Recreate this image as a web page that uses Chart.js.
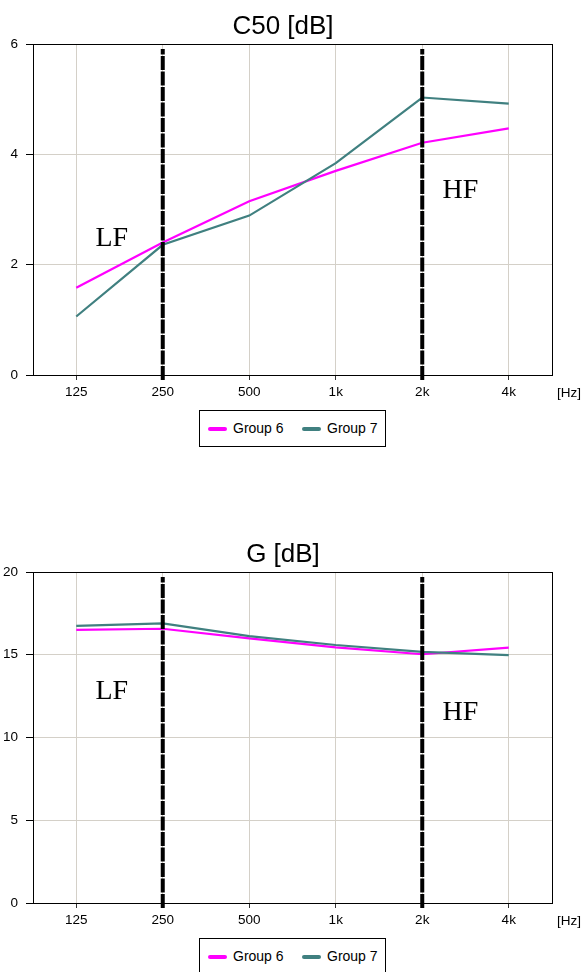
<!DOCTYPE html>
<html>
<head>
<meta charset="utf-8">
<script src="https://cdn.jsdelivr.net/npm/chart.js@4/dist/chart.umd.min.js"></script>
<style>
  html, body { margin:0; padding:0; background:#fff; width:586px; height:972px; overflow:hidden; }
  .panel { position:absolute; left:0; width:586px; height:528px; }
  .panel canvas { position:absolute; left:0; top:0; }
  .title { position:absolute; left:0; width:566px; top:10px; line-height:30px; text-align:center;
           font-family:"Liberation Sans", Arial, sans-serif; font-size:26px; color:#000; }
  .legend { position:absolute; left:199px; top:410px; width:187px; height:37px; box-sizing:border-box;
            border:1px solid #000; background:#fff; font-family:"Liberation Sans", Arial, sans-serif; font-size:14px; }
  .legend .sw { position:absolute; top:16px; width:19px; height:4px; border-radius:2px; }
  .legend .tx { position:absolute; top:0; line-height:35px; color:#000; }
</style>
</head>
<body>
<div class="panel" id="p1" style="top:0px;">
  <canvas id="c1" width="586" height="528"></canvas>
  <div class="title" id="t1"></div>
  <div class="legend" id="l1"></div>
</div>
<div class="panel" id="p2" style="top:528px;">
  <canvas id="c2" width="586" height="528"></canvas>
  <div class="title" id="t2"></div>
  <div class="legend" id="l2"></div>
</div>
<script>
// ---- data ----
const bands = ['125', '250', '500', '1k', '2k', '4k'];
const seriesNames = ['Group 6', 'Group 7'];
const seriesColors = ['#FF00FF', '#408080'];

const c50Title = 'C50 [dB]';
const c50Group6 = [1.58, 2.40, 3.15, 3.70, 4.21, 4.47];
const c50Group7 = [1.06, 2.36, 2.89, 3.84, 5.03, 4.92];
const c50Ticks = [0, 2, 4, 6];

const gTitle = 'G [dB]';
const gGroup6 = [16.5, 16.57, 15.99, 15.45, 15.03, 15.43];
const gGroup7 = [16.74, 16.9, 16.13, 15.59, 15.17, 14.98];
const gTicks = [0, 5, 10, 15, 20];

const markerBands = ['250', '2k'];
const c50MarkerSpan = [-0.09, 5.91];
const gMarkerSpan = [-0.3, 19.7];

const c50Labels = [{ text: 'LF', x: 0.41, y: 2.48 }, { text: 'HF', x: 4.44, y: 3.34 }];
const gLabels = [{ text: 'LF', x: 0.41, y: 12.75 }, { text: 'HF', x: 4.44, y: 11.48 }];
const unitLabel = '[Hz]';

// ---- drawing ----
const SANS = '"Liberation Sans", Arial, sans-serif';
const GRID = '#D4D0C8';

const framePlugin = {
  id: 'frame',
  afterDraw(chart, args, opts) {
    const { ctx, chartArea: a, scales } = chart;
    ctx.save();
    ctx.strokeStyle = '#000';
    ctx.lineWidth = 1;
    ctx.strokeRect(Math.round(a.left) + 0.5, Math.round(a.top) + 0.5,
                   Math.round(a.right - a.left), Math.round(a.bottom - a.top));
    ctx.fillStyle = '#000';
    ctx.font = '13.5px ' + SANS;
    ctx.textAlign = 'left';
    ctx.textBaseline = 'middle';
    ctx.fillText(unitLabel, a.right + 5, a.bottom + 18);
    ctx.font = '28px "Liberation Serif", "Times New Roman", serif';
    ctx.textAlign = 'center';
    for (const l of opts.labels) {
      ctx.fillText(l.text, scales.x.getPixelForValue(l.x), scales.y.getPixelForValue(l.y));
    }
    ctx.restore();
  }
};

function makeChart(canvasId, g6, g7, ticks, span, labels) {
  const markerSets = markerBands.map(b => ({
    label: 'marker ' + b,
    data: span.map(v => ({ x: b, y: v })),
    borderColor: '#000',
    borderWidth: 4,
    borderDash: [14, 1.5],
    pointRadius: 0,
    clip: false,
    order: 1
  }));
  return new Chart(document.getElementById(canvasId), {
    type: 'line',
    data: {
      labels: bands,
      datasets: [
        { label: seriesNames[0], data: g6, borderColor: seriesColors[0], borderWidth: 2.2, pointRadius: 0, tension: 0, order: 3 },
        { label: seriesNames[1], data: g7, borderColor: seriesColors[1], borderWidth: 2.2, pointRadius: 0, tension: 0, order: 2 },
        ...markerSets
      ]
    },
    options: {
      responsive: false,
      animation: false,
      devicePixelRatio: 1,
      layout: { padding: { top: 44, left: 0, right: 34, bottom: 123 } },
      plugins: { legend: { display: false }, tooltip: { enabled: false }, title: { display: false },
                 frame: { labels } },
      scales: {
        x: {
          type: 'category',
          offset: true,
          grid: { color: GRID, lineWidth: 1, offset: false, drawTicks: true, tickLength: 5, tickColor: '#333' },
          border: { color: '#000', width: 1 },
          ticks: { color: '#000', font: { family: SANS, size: 13.5 }, padding: 4, maxRotation: 0, autoSkip: false },
          afterFit(s) { s.height = 30; }
        },
        y: {
          min: ticks[0], max: ticks[ticks.length - 1],
          afterBuildTicks(s) { s.ticks = ticks.map(v => ({ value: v })); },
          grid: { color: GRID, lineWidth: 1, drawTicks: true, tickLength: 7, tickColor: '#000' },
          border: { color: '#000', width: 1 },
          ticks: { color: '#000', font: { family: SANS, size: 13.5 }, padding: 8 },
          afterFit(s) { s.width = 33; }
        }
      }
    },
    plugins: [framePlugin]
  });
}

function fillHtml(titleId, legendId, title) {
  document.getElementById(titleId).textContent = title;
  const lg = document.getElementById(legendId);
  const pos = [[8, 33], [102, 127]];
  seriesNames.forEach((n, i) => {
    const sw = document.createElement('span');
    sw.className = 'sw'; sw.style.left = pos[i][0] + 'px'; sw.style.background = seriesColors[i];
    const tx = document.createElement('span');
    tx.className = 'tx'; tx.style.left = pos[i][1] + 'px'; tx.textContent = n;
    lg.appendChild(sw); lg.appendChild(tx);
  });
}

fillHtml('t1', 'l1', c50Title);
fillHtml('t2', 'l2', gTitle);
makeChart('c1', c50Group6, c50Group7, c50Ticks, c50MarkerSpan, c50Labels);
makeChart('c2', gGroup6, gGroup7, gTicks, gMarkerSpan, gLabels);
</script>
</body>
</html>
